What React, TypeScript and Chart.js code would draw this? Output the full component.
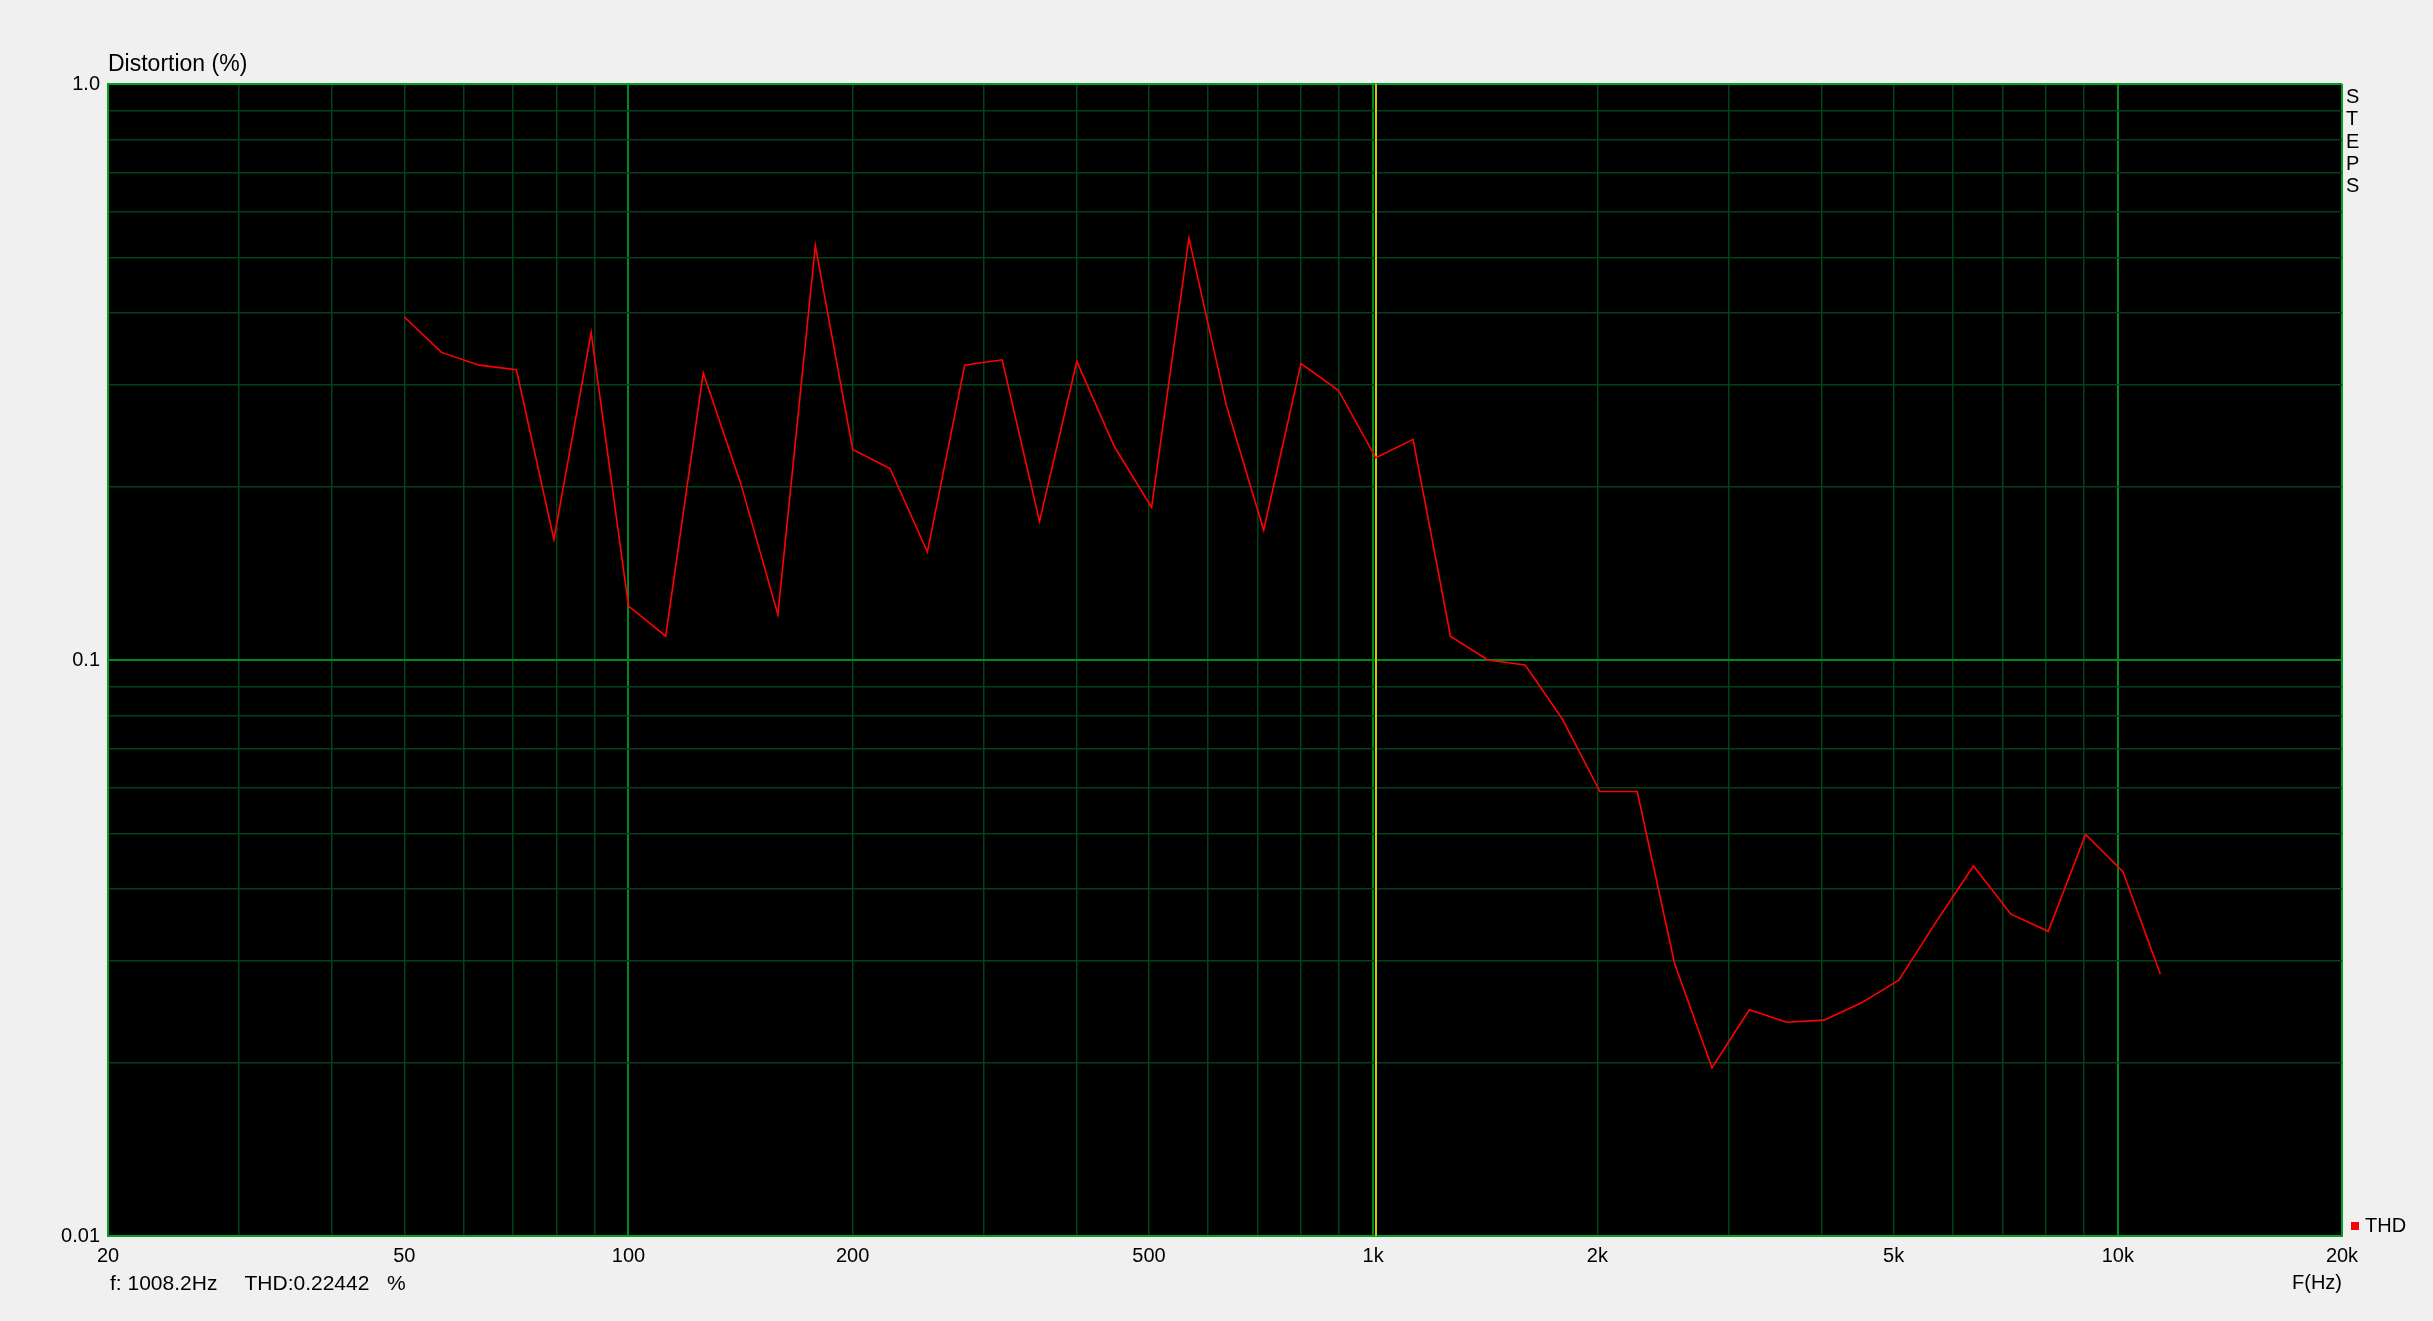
import React, { useEffect, useRef } from "react";
import { Chart, registerables } from "chart.js";

Chart.register(...registerables);

// ---- data ----
const frequencies = [
  50, 56.1, 63, 70.7, 79.4, 89.1, 100, 112.2, 126, 141.4, 158.7, 178.2,
  200, 224.5, 252, 282.8, 317.5, 356.4, 400, 449, 504, 565.7, 635, 712.8,
  800, 898, 1008.2, 1131.4, 1270, 1425.4, 1600, 1795.9, 2016, 2262.7, 2540, 2851,
  3200, 3592, 4032, 4525, 5080, 5702, 6400, 7184, 8063, 9051, 10159, 11404,
];
const thdValues = [
  0.394, 0.342, 0.325, 0.319, 0.162, 0.37, 0.124, 0.11, 0.315, 0.203, 0.12, 0.524,
  0.232, 0.215, 0.154, 0.325, 0.332, 0.174, 0.33, 0.235, 0.184, 0.54, 0.277, 0.168,
  0.327, 0.294, 0.2244, 0.2416, 0.11, 0.1, 0.098, 0.0789, 0.0591, 0.0591, 0.0297, 0.0196,
  0.0247, 0.0235, 0.0237, 0.0254, 0.0278, 0.0351, 0.0439, 0.0362, 0.0338, 0.0498, 0.0429, 0.0285,
];
const xGridValues = [
  20, 30, 40, 50, 60, 70, 80, 90,
  100, 200, 300, 400, 500, 600, 700, 800, 900,
  1000, 2000, 3000, 4000, 5000, 6000, 7000, 8000, 9000,
  10000, 20000,
];
const xTickLabels: Record<number, string> = {
  20: "20", 50: "50", 100: "100", 200: "200", 500: "500",
  1000: "1k", 2000: "2k", 5000: "5k", 10000: "10k", 20000: "20k",
};
const yGridValues = [
  0.01, 0.02, 0.03, 0.04, 0.05, 0.06, 0.07, 0.08, 0.09,
  0.1, 0.2, 0.3, 0.4, 0.5, 0.6, 0.7, 0.8, 0.9, 1,
];
const yTickLabels: Record<string, string> = { "1": "1.0", "0.1": "0.1", "0.01": "0.01" };
const xMajor = [100, 1000, 10000];
const yMajor = [0.1];
const xEdges = [20, 20000];
const yEdges = [0.01, 1];
const cursorFreq = 1008.2;
const cursorTHD = 0.22442;
const seriesLabel = "THD";
const sideLetters = ["S", "T", "E", "P", "S"];

const FONT = "'Liberation Sans', Arial, sans-serif";
const MINOR = "#00421A";
const MAJOR = "#008A1E";
const EDGE = "#00A020";

const bgPlugin = {
  id: "bgPlugin",
  beforeDraw(chart: any) {
    const { ctx, chartArea: a, width, height } = chart;
    ctx.save();
    ctx.fillStyle = "#F0F0F0";
    ctx.fillRect(0, 0, width, height);
    ctx.fillStyle = "#000000";
    ctx.fillRect(a.left, a.top, a.right - a.left, a.bottom - a.top);
    ctx.restore();
  },
};

const cursorPlugin = {
  id: "cursorPlugin",
  beforeDatasetsDraw(chart: any) {
    const { ctx, chartArea: a } = chart;
    const x = chart.scales.x.getPixelForValue(cursorFreq);
    ctx.save();
    ctx.strokeStyle = "#CCCC00";
    ctx.lineWidth = 2;
    ctx.beginPath();
    ctx.moveTo(Math.round(x) + 0.0, a.top);
    ctx.lineTo(Math.round(x) + 0.0, a.bottom);
    ctx.stroke();
    ctx.restore();
  },
};

const textPlugin = {
  id: "textPlugin",
  afterDraw(chart: any) {
    const { ctx, chartArea: a } = chart;
    const ds = chart.data.datasets[0];
    ctx.save();
    ctx.fillStyle = "#000000";
    ctx.textBaseline = "alphabetic";
    ctx.textAlign = "left";
    // vertical side letters
    ctx.font = `20px ${FONT}`;
    sideLetters.forEach((ch, i) => {
      ctx.fillText(ch, a.right + 4, a.top + 19 + i * 22.25);
    });
    // legend
    ctx.fillStyle = ds.borderColor;
    ctx.fillRect(a.right + 9, a.bottom - 14, 8, 8);
    ctx.fillStyle = "#000000";
    ctx.font = `20px ${FONT}`;
    ctx.fillText(ds.label, a.right + 23, a.bottom - 3.7);
    // status line
    ctx.font = `21px ${FONT}`;
    ctx.fillText(`f: ${cursorFreq}Hz`, a.left + 2, 1290);
    ctx.fillText(`THD:${cursorTHD}`, a.left + 136.5, 1290);
    ctx.fillText("%", a.left + 279, 1290);
    ctx.restore();
  },
};

function gridColor(value: number, majors: number[], edges: number[]) {
  if (edges.some((e) => Math.abs(e - value) / e < 1e-6)) return EDGE;
  if (majors.some((e) => Math.abs(e - value) / e < 1e-6)) return MAJOR;
  return MINOR;
}
function gridWidth(value: number, majors: number[], edges: number[]) {
  if (edges.some((e) => Math.abs(e - value) / e < 1e-6)) return 2;
  if (majors.some((e) => Math.abs(e - value) / e < 1e-6)) return 2;
  return 1.5;
}

export default function App() {
  const canvasRef = useRef<HTMLCanvasElement | null>(null);

  useEffect(() => {
    if (!canvasRef.current) return;
    const chart = new Chart(canvasRef.current, {
      type: "line",
      data: {
        datasets: [
          {
            label: seriesLabel,
            data: frequencies.map((f, i) => ({ x: f, y: thdValues[i] })),
            borderColor: "#FF0000",
            backgroundColor: "#FF0000",
            borderWidth: 1.6,
            pointRadius: 0,
            tension: 0,
            fill: false,
          },
        ],
      },
      options: {
        animation: false,
        responsive: false,
        devicePixelRatio: 1,
        events: [],
        layout: { padding: { left: 0, right: 91, top: 51, bottom: 0 } },
        plugins: {
          legend: { display: false },
          tooltip: { enabled: false },
          title: {
            display: true,
            text: "Distortion (%)",
            align: "start",
            fullSize: false,
            color: "#000000",
            font: { family: FONT, size: 23, weight: "normal", lineHeight: 1.2 },
            padding: { top: 0, bottom: 5.4 },
          },
        },
        scales: {
          x: {
            type: "logarithmic",
            min: 20,
            max: 20000,
            afterBuildTicks: (scale: any) => {
              scale.ticks = xGridValues.map((v) => ({ value: v }));
            },
            afterFit: (scale: any) => {
              scale.height = 85;
            },
            ticks: {
              autoSkip: false,
              maxRotation: 0,
              minRotation: 0,
              padding: 8.5,
              color: "#000000",
              font: { family: FONT, size: 20, lineHeight: 1.2 },
              callback: (v: any) => xTickLabels[Number(v)] ?? "",
            },
            grid: {
              drawTicks: false,
              tickLength: 0,
              color: (c: any) => gridColor(c.tick?.value ?? 0, xMajor, xEdges),
              lineWidth: (c: any) => gridWidth(c.tick?.value ?? 0, xMajor, xEdges),
            },
            border: { display: true, color: EDGE, width: 2 },
            title: {
              display: true,
              text: "F(Hz)",
              align: "end",
              color: "#000000",
              font: { family: FONT, size: 20, lineHeight: 1.2 },
              padding: { top: 0, bottom: 25.9 },
            },
          },
          y: {
            type: "logarithmic",
            min: 0.01,
            max: 1,
            afterBuildTicks: (scale: any) => {
              scale.ticks = yGridValues.map((v) => ({ value: v }));
            },
            afterFit: (scale: any) => {
              scale.width = 108;
            },
            ticks: {
              autoSkip: false,
              padding: 8,
              color: "#000000",
              font: { family: FONT, size: 20, lineHeight: 1.2 },
              callback: (v: any) => yTickLabels[String(Number(v))] ?? "",
            },
            grid: {
              drawTicks: false,
              tickLength: 0,
              color: (c: any) => gridColor(c.tick?.value ?? 0, yMajor, yEdges),
              lineWidth: (c: any) => gridWidth(c.tick?.value ?? 0, yMajor, yEdges),
            },
            border: { display: true, color: EDGE, width: 2 },
          },
        },
      } as any,
      plugins: [bgPlugin, cursorPlugin, textPlugin],
    });
    return () => chart.destroy();
  }, []);

  return (
    <div style={{ position: "fixed", left: 0, top: 0, width: 2433, height: 1321 }}>
      <canvas
        ref={canvasRef}
        width={2433}
        height={1321}
        style={{ display: "block", width: 2433, height: 1321 }}
      />
    </div>
  );
}
